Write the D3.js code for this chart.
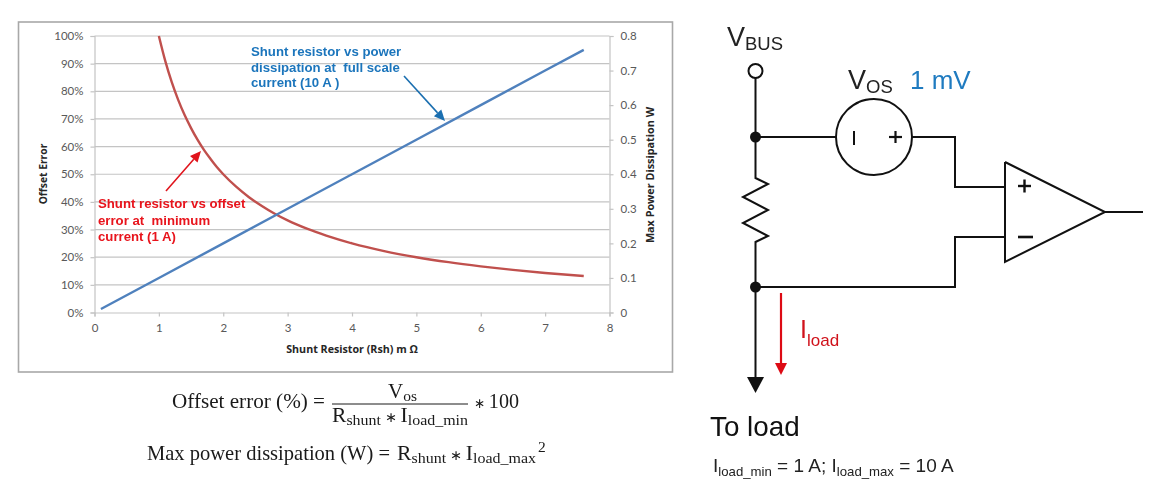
<!DOCTYPE html>
<html><head><meta charset="utf-8">
<script src="https://cdn.jsdelivr.net/npm/d3@7"></script>
<style>
html,body{margin:0;padding:0;background:#fff}
svg{display:block;filter:blur(0.35px)}
text{font-family:"Liberation Sans",Arial,sans-serif}
</style></head><body>
<svg id="c" width="1150" height="500"></svg>
<script>
// Chart data
const xTicks = [0,1,2,3,4,5,6,7,8];
const offsetTicks = [0,10,20,30,40,50,60,70,80,90,100];
const powerTicks = [0,0.1,0.2,0.3,0.4,0.5,0.6,0.7,0.8];
const resistorRed = [1.0,1.1,1.2,1.3,1.4,1.5,1.6,1.7,1.8,1.9,2.0,2.2,2.4,2.6,2.8,3.0,3.3,3.6,4.0,4.5,5.0,5.5,6.0,6.5,7.0,7.6];
const offsetError = [100,90.9,83.3,76.9,71.4,66.7,62.5,58.8,55.6,52.6,50,45.5,41.7,38.5,35.7,33.3,30.3,27.8,25,22.2,20,18.2,16.7,15.4,14.3,13.2];
const resistorBlue = [0.1,1.0,2.0,3.0,4.0,5.0,6.0,7.0,7.6];
const maxPower = [0.01,0.10,0.20,0.30,0.40,0.50,0.60,0.70,0.76];

const svg = d3.select("#c");
const GREY="#595959", TICK="Lato,'Open Sans',sans-serif", LABEL="'Open Sans',sans-serif";
const BLUE="#4F81BD", RED="#C0504D";

svg.append("rect").attr("x",18.5).attr("y",22).attr("width",654).attr("height",350)
  .attr("fill","#fff").attr("stroke","#a8a8a8").attr("stroke-width",1.6);

const x = d3.scaleLinear().domain([0,8]).range([94.5,609.5]);
const yL = d3.scaleLinear().domain([0,100]).range([312.5,36]);
const yR = d3.scaleLinear().domain([0,0.8]).range([312.5,36]);

// gridlines
svg.append("g").selectAll("line").data(offsetTicks.filter(d=>d>0)).join("line")
  .attr("x1",x(0)).attr("x2",x(8)).attr("y1",d=>yL(d)).attr("y2",d=>yL(d))
  .attr("stroke","#c4c4c4").attr("stroke-width",1.2);

function styleAxis(g,size){
  g.selectAll(".domain").attr("stroke","#c4c4c4").attr("stroke-width",1.2);
  g.selectAll(".tick line").attr("stroke","#c4c4c4").attr("stroke-width",1.2);
  g.selectAll("text").attr("fill",GREY).style("font-family",TICK).style("font-size",size+"px");
}
const axB = svg.append("g").attr("transform",`translate(0,${yL(0)})`)
  .call(d3.axisBottom(x).tickValues(xTicks).tickSize(4).tickPadding(7).tickFormat(d3.format("d")));
styleAxis(axB,11.5);
const axL = svg.append("g").attr("transform",`translate(${x(0)},0)`)
  .call(d3.axisLeft(yL).tickValues(offsetTicks).tickSize(4).tickPadding(7).tickFormat(d=>d+"%"));
styleAxis(axL,11.5);
const axR = svg.append("g").attr("transform",`translate(${x(8)},0)`)
  .call(d3.axisRight(yR).tickValues(powerTicks).tickSize(4).tickPadding(7).tickFormat(d=>d===0?"0":d3.format(".1f")(d)));
styleAxis(axR,11.5);

// axis titles
const axisTitle=(t,px,py,rot,fs)=>svg.append("text").text(t).attr("text-anchor","middle")
  .attr("transform",`translate(${px},${py}) rotate(${rot})`)
  .attr("fill","#262626").attr("font-weight",700).style("font-family",LABEL).style("font-size",fs+"px");
axisTitle("Shunt Resistor (Rsh) m Ω",352,353,0,10.7);
axisTitle("Offset Error",47,174,-90,10.3);
axisTitle("Max Power Dissipation  W",654,175,-90,10.8);

// series
svg.append("path").attr("fill","none").attr("stroke",RED).attr("stroke-width",2.4)
  .attr("d",d3.line().x(d=>x(d[0])).y(d=>yL(d[1])).curve(d3.curveMonotoneX)(d3.zip(resistorRed,offsetError)));
svg.append("path").attr("fill","none").attr("stroke",BLUE).attr("stroke-width",2.4)
  .attr("d",d3.line().x(d=>x(d[0])).y(d=>yR(d[1]))(d3.zip(resistorBlue,maxPower)));

// helpers
function arrow(x1,y1,x2,y2,color,w,len,half){
  const a=Math.atan2(y2-y1,x2-x1), bx=x2-len*Math.cos(a), by=y2-len*Math.sin(a);
  svg.append("line").attr("x1",x1).attr("y1",y1).attr("x2",bx).attr("y2",by).attr("stroke",color).attr("stroke-width",w);
  const nx=-Math.sin(a)*half, ny=Math.cos(a)*half;
  svg.append("path").attr("fill",color).attr("d",`M${x2},${y2}L${bx+nx},${by+ny}L${bx-nx},${by-ny}Z`);
}
const lines=(arr,px,color,size)=>arr.forEach(([t,py])=>svg.append("text").text(t).attr("x",px).attr("y",py)
  .attr("fill",color).attr("font-weight",700).style("font-size",size+"px").style("white-space","pre"));

// annotations
lines([["Shunt resistor vs power",56],["dissipation at  full scale",72],["current (10 A )",87]],251,"#1B75BC",13.2);
lines([["Shunt resistor vs offset",208],["error at  minimum",225],["current (1 A)",241]],98,"#E8141C",13.2);
arrow(404,76,445,121,"#1B6FB0",1.6,11,5);
arrow(166,191,201,151,"#E0141C",1.6,11,5);

// multi-part text
function rich(px,py,parts,font,color){
  const t=svg.append("text").attr("x",px).attr("y",py).attr("fill",color||"#1a1a1a").style("font-family",font).style("white-space","pre");
  parts.forEach(p=>t.append("tspan").text(p.t).style("font-size",p.s+"px").attr("dy",p.d||0));
  return t;
}
const SERIF="'Liberation Serif',serif", SANS="'Liberation Sans',sans-serif";
const fit=(t,len)=>t.attr("textLength",len).attr("lengthAdjust","spacingAndGlyphs");

// equations
fit(rich(172,408,[{t:"Offset error (%) =",s:21}],SERIF),153);
rich(388,398,[{t:"V",s:21},{t:"os",s:15.5,d:3}],SERIF);
svg.append("line").attr("x1",332).attr("x2",468).attr("y1",404).attr("y2",404).attr("stroke","#1a1a1a").attr("stroke-width",1);
fit(rich(332,422,[{t:"R",s:21},{t:"shunt",s:15.5,d:3},{t:" ∗ ",s:14,d:-3},{t:"I",s:21},{t:"load_min",s:15.5,d:3}],SERIF),136);
fit(rich(474,408,[{t:"∗ ",s:14},{t:"100",s:21}],SERIF),45);
fit(rich(147,460,[{t:"Max power dissipation (W) =",s:21}],SERIF),243);
fit(rich(397,460,[{t:"R",s:21},{t:"shunt",s:15.5,d:3},{t:" ∗ ",s:14,d:-3},{t:"I",s:21},{t:"load_max",s:15.5,d:3}],SERIF),139);
rich(538,452,[{t:"2",s:15.5}],SERIF);

// circuit
const wire=(pts,w)=>svg.append("polyline").attr("points",pts.map(p=>p.join(",")).join(" "))
  .attr("fill","none").attr("stroke","#111").attr("stroke-width",w||2).attr("stroke-linejoin","miter");
wire([[755.5,78],[755.5,178],[768,184],[743,197],[768,210],[743,223],[768,236],[755.5,242],[755.5,380]]);
wire([[755.5,137],[836,137]]);
wire([[912,137],[955,137],[955,187],[1005,187]]);
wire([[755.5,287],[955,287],[955,237],[1005,237]]);
wire([[1005,162],[1105,212],[1005,262],[1005,162]]);
wire([[1105,212],[1143,212]]);
svg.append("circle").attr("cx",755.5).attr("cy",71).attr("r",7).attr("fill","#fff").attr("stroke","#111").attr("stroke-width",2);
svg.append("circle").attr("cx",874).attr("cy",137).attr("r",38).attr("fill","#fff").attr("stroke","#111").attr("stroke-width",2);
[137,287].forEach(cy=>svg.append("circle").attr("cx",755.5).attr("cy",cy).attr("r",5.5).attr("fill","#111"));
svg.append("path").attr("fill","#111").attr("d","M747,377L764,377L755.5,393Z");
wire([[854,131],[854,145]],2);
wire([[889,137],[902,137]],2.2); wire([[895.5,131],[895.5,143]],2.2);
wire([[1018,186],[1031,186]],2.4); wire([[1024.5,179.5],[1024.5,192.5]],2.4);
wire([[1018,237],[1033,237]],2.6);
svg.append("line").attr("x1",781).attr("x2",781).attr("y1",293).attr("y2",364).attr("stroke","#DD0A14").attr("stroke-width",2.2);
svg.append("path").attr("fill","#DD0A14").attr("d","M775,363L787,363L781,375Z");

// circuit labels
rich(727,46,[{t:"V",s:27},{t:"BUS",s:18.5,d:4}],SANS,"#222");
rich(848,89,[{t:"V",s:27},{t:"OS",s:18.5,d:4}],SANS,"#222");
rich(910,89,[{t:"1 mV",s:26}],SANS,"#1F7BC0");
rich(800,338,[{t:"I",s:25},{t:"load",s:17,d:8}],SANS,"#D0121B");
rich(710,436,[{t:"To load",s:27.8}],SANS,"#111");
rich(713,472,[{t:"I",s:19},{t:"load_min",s:13.2,d:4},{t:" = 1 A; I",s:19,d:-4},{t:"load_max",s:13.2,d:4},{t:" = 10 A",s:19,d:-4}],SANS,"#222");
</script>
</body></html>
